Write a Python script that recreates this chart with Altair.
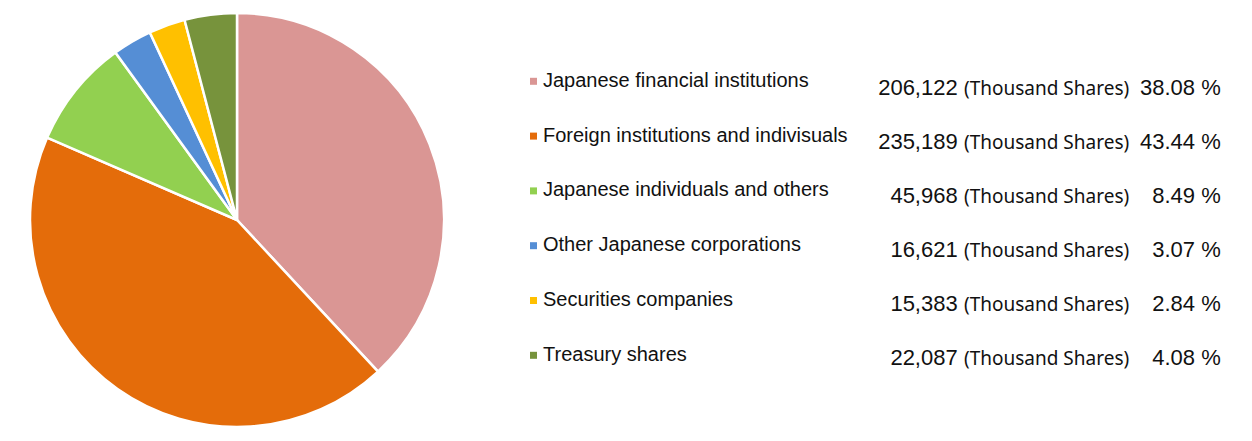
import altair as alt
import pandas as pd

categories = [
    "Japanese financial institutions",
    "Foreign institutions and indivisuals",
    "Japanese individuals and others",
    "Other Japanese corporations",
    "Securities companies",
    "Treasury shares",
]
shares = [206122, 235189, 45968, 16621, 15383, 22087]
percents = [38.08, 43.44, 8.49, 3.07, 2.84, 4.08]
colors = ["#DA9694", "#E46C0A", "#92D050", "#558ED5", "#FFC000", "#77933C"]
unit_label = "(Thousand Shares)"

df = pd.DataFrame({
    "category": categories,
    "shares": shares,
    "pct": percents,
    "order": list(range(len(categories))),
    "unit": [unit_label] * len(categories),
})

color = alt.Color("category:N", scale=alt.Scale(domain=categories, range=colors), legend=None)

pie = alt.Chart(df).mark_arc(radius=207, stroke="white", strokeWidth=2.5).encode(
    theta=alt.Theta("shares:Q", stack=True),
    order=alt.Order("order:Q"),
    color=color,
).properties(width=448, height=414)


def ypos(lo, hi):
    return alt.Y("category:N", sort=categories, axis=None,
                 scale=alt.Scale(type="point", domain=categories, range=[lo, hi], padding=0))


base = alt.Chart(df)

squares = base.mark_square(size=49, opacity=1, yOffset=-5.4).encode(
    x=alt.value(72.5), y=ypos(73.7, 347.7), color=color
)
labels = base.mark_text(align="left", baseline="alphabetic", font="Liberation Sans",
                        fontSize=20, color="#111111").encode(
    x=alt.value(82), y=ypos(73.7, 347.7), text="category:N"
)
numbers = base.mark_text(align="right", baseline="alphabetic", font="Liberation Sans",
                         fontSize=22, color="#111111").encode(
    x=alt.value(496.7), y=ypos(82.3, 352.3), text=alt.Text("shares:Q", format=",")
)
units = base.mark_text(align="left", baseline="alphabetic", font="Noto Sans",
                       fontSize=19, color="#111111").encode(
    x=alt.value(503), y=ypos(82.3, 352.3), text="unit:N"
)
pcts = base.transform_calculate(
    pct_label="format(datum.pct, '.2f') + ' %'"
).mark_text(align="right", baseline="alphabetic", font="Liberation Sans",
            fontSize=22, color="#111111").encode(
    x=alt.value(759.7), y=ypos(82.3, 352.3), text="pct_label:N"
)

table = alt.layer(squares, labels, numbers, units, pcts).resolve_scale(
    y="independent"
).properties(width=770, height=414)

chart = alt.hconcat(pie, table, spacing=0).configure_view(stroke=None).properties(
    background="white",
    padding={"left": 5, "top": 0, "right": 5, "bottom": 5},
)

chart.save("out.html", embed_options={"renderer": "svg", "actions": False})
